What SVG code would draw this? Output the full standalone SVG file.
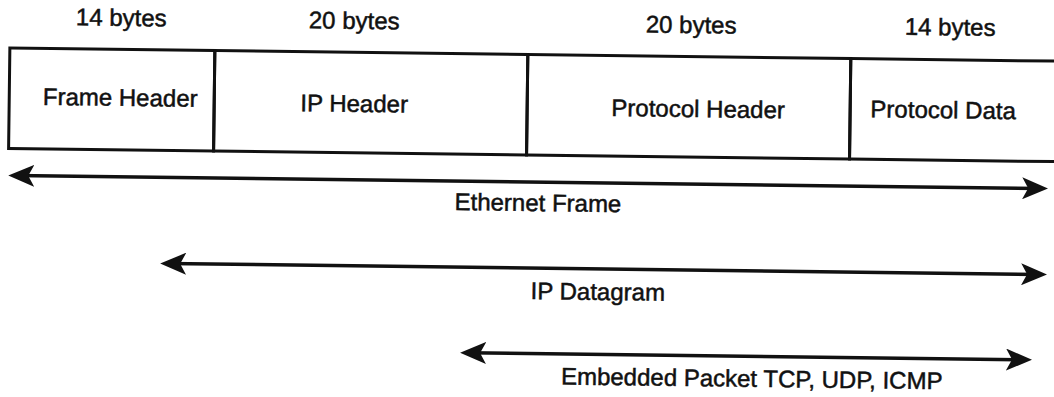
<svg xmlns="http://www.w3.org/2000/svg" width="1054" height="397" viewBox="0 0 1054 397">
  <style>
    .cell { fill: none; stroke: #111; stroke-width: 3; }
    .txt { font-family: "Liberation Sans", Arial, Helvetica, sans-serif; font-size: 24px; fill: #111; stroke: #111; stroke-width: 0.5; text-anchor: middle; }
    .arrow { stroke: #111; stroke-width: 3.5; fill: none; marker-start: url(#head); marker-end: url(#head); }
  </style>
  <defs>
    <marker id="head" viewBox="0 0 26 22" refX="19" refY="11" markerWidth="26" markerHeight="22" markerUnits="userSpaceOnUse" orient="auto-start-reverse">
      <path d="M0,0 L26,11 L0,22 L6,11 Z" fill="#111"/>
    </marker>
  </defs>
  <rect width="1054" height="397" fill="#fff"/>
  <g transform="rotate(0.72 527 200)">
    <g id="frame-header">
      <rect class="cell" x="8" y="54.5" width="205" height="100.5"/>
      <text class="txt" x="119" y="31">14 bytes</text>
      <text class="txt" x="119" y="111">Frame Header</text>
    </g>
    <g id="ip-header">
      <rect class="cell" x="213" y="54.5" width="313" height="100.5"/>
      <text class="txt" x="352" y="31">20 bytes</text>
      <text class="txt" x="353" y="114">IP Header</text>
    </g>
    <g id="protocol-header">
      <rect class="cell" x="526" y="54.5" width="323" height="100.5"/>
      <text class="txt" x="689" y="31">20 bytes</text>
      <text class="txt" x="697" y="115">Protocol Header</text>
    </g>
    <g id="protocol-data">
      <rect class="cell" x="849" y="54.5" width="230" height="100.5"/>
      <text class="txt" x="948" y="30">14 bytes</text>
      <text class="txt" x="942" y="113">Protocol Data</text>
    </g>
    <g id="connectors">
      <line class="arrow" x1="15" y1="182" x2="1041" y2="182"/>
      <line class="arrow" x1="168" y1="268" x2="1041" y2="268"/>
      <line class="arrow" x1="469" y1="353.5" x2="1027" y2="353.5"/>
    </g>
    <g id="connector-labels">
      <text class="txt" x="538" y="211">Ethernet Frame</text>
      <text class="txt" x="599" y="299">IP Datagram</text>
      <text class="txt" x="754" y="384">Embedded Packet TCP, UDP, ICMP</text>
    </g>
  </g>
</svg>
